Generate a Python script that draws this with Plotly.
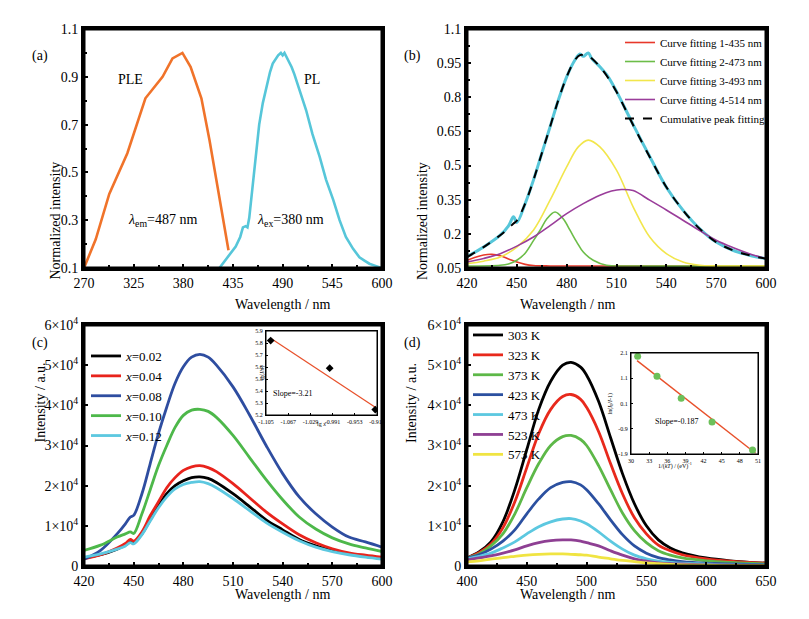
import plotly.graph_objects as go

W, H = 801, 611  # page body keeps an 8 px margin, so 8 + 801 = 809 and 8 + 611 = 619
OFF = 8

# ---- (a) PLE / PL ----
ple_x = [270, 283, 298, 318, 338, 350, 357, 368, 379, 388, 400, 409, 420, 430]
ple_y = [0.10, 0.22, 0.41, 0.58, 0.81, 0.865, 0.90, 0.977, 1.0, 0.942, 0.81, 0.635, 0.397, 0.174]
pl_x = [420, 426, 431, 438, 443, 446, 449, 451, 453, 457, 460, 464, 468, 472, 476, 479, 482, 485, 488,
        490, 492, 494, 497, 500, 503, 508, 516, 523, 531, 538, 546, 553, 560, 568, 575, 581, 586, 592, 597, 600]
pl_y = [0.10, 0.13, 0.15, 0.19, 0.23, 0.27, 0.275, 0.27, 0.31, 0.45, 0.56, 0.70, 0.79, 0.86, 0.92, 0.955, 0.975, 0.99, 1.0,
        0.99, 1.0, 0.985, 0.96, 0.94, 0.91, 0.85, 0.76, 0.66, 0.565, 0.47, 0.385, 0.30, 0.23, 0.18, 0.145, 0.13, 0.118, 0.11, 0.104, 0.10]

# ---- (b) peak fitting ----
b_x = [420, 430, 440, 445, 448, 450, 455, 460, 465, 470, 475, 480, 485, 488, 490, 493, 495, 500, 505, 510,
       520, 530, 540, 550, 560, 570, 580, 590, 600]
b_meas = [0.10, 0.142, 0.194, 0.235, 0.275, 0.25, 0.333, 0.436, 0.553, 0.67, 0.788, 0.89, 0.964, 0.99, 0.98, 0.995, 0.971, 0.934, 0.89, 0.826,
          0.68, 0.54, 0.405, 0.304, 0.223, 0.164, 0.128, 0.106, 0.091]
b_cum = [0.098, 0.142, 0.194, 0.225, 0.245, 0.258, 0.333, 0.436, 0.553, 0.67, 0.788, 0.89, 0.964, 0.985, 0.986, 0.982, 0.971, 0.934, 0.885, 0.824,
         0.678, 0.538, 0.406, 0.304, 0.223, 0.164, 0.128, 0.106, 0.091]
fit1_x = [420, 425, 430, 435, 440, 445, 450, 455, 460, 470, 500, 600]
fit1_y = [0.084, 0.097, 0.107, 0.110, 0.104, 0.090, 0.076, 0.066, 0.061, 0.059, 0.059, 0.059]
fit2_x = [420, 440, 445, 450, 455, 460, 464, 468, 473, 478, 482, 486, 490, 496, 504, 520, 600]
fit2_y = [0.059, 0.062, 0.068, 0.084, 0.115, 0.170, 0.216, 0.265, 0.296, 0.265, 0.216, 0.165, 0.120, 0.084, 0.062, 0.059, 0.059]
fit3_x = [420, 430, 440, 450, 460, 470, 480, 487, 493, 500, 510, 520, 530, 540, 550, 560, 570, 600]
fit3_y = [0.069, 0.080, 0.098, 0.142, 0.216, 0.348, 0.494, 0.582, 0.612, 0.582, 0.480, 0.319, 0.186, 0.113, 0.076, 0.062, 0.059, 0.059]
fit4_x = [420, 430, 440, 450, 460, 470, 480, 490, 500, 507, 513, 520, 530, 540, 550, 560, 570, 580, 590, 600]
fit4_y = [0.076, 0.092, 0.113, 0.146, 0.186, 0.236, 0.289, 0.333, 0.370, 0.388, 0.395, 0.390, 0.348, 0.305, 0.260, 0.215, 0.172, 0.140, 0.113, 0.091]
fit_names = ["Curve fitting 1-435 nm", "Curve fitting 2-473 nm", "Curve fitting 3-493 nm", "Curve fitting 4-514 nm"]
fit_colors = ["#E8382A", "#6CBD48", "#F2E64C", "#9A3D9A"]

# ---- (c) concentration ----
c_x = [420, 430, 440, 445, 448, 450, 455, 460, 465, 470, 475, 480, 485, 490, 495, 500, 510, 520, 530, 540,
       550, 560, 570, 580, 590, 600]
c_names = ["0.02", "0.04", "0.08", "0.10", "0.12"]
c_colors = ["#000000", "#E8231C", "#2E4DA0", "#4DB84A", "#5CC8E0"]
c_002 = [0.20, 0.28, 0.42, 0.52, 0.60, 0.58, 0.80, 1.15, 1.50, 1.80, 2.00, 2.12, 2.20, 2.22, 2.18, 2.08, 1.80, 1.48, 1.15, 0.90,
         0.66, 0.50, 0.38, 0.30, 0.24, 0.19]
c_004 = [0.18, 0.28, 0.45, 0.56, 0.66, 0.62, 0.85, 1.25, 1.60, 1.95, 2.20, 2.38, 2.47, 2.50, 2.45, 2.35, 2.05, 1.70, 1.35, 1.05,
         0.78, 0.58, 0.43, 0.33, 0.27, 0.22]
c_008 = [0.17, 0.39, 0.80, 1.05, 1.22, 1.26, 1.80, 2.55, 3.30, 3.96, 4.55, 4.96, 5.20, 5.27, 5.20, 5.00, 4.46, 3.76, 3.00, 2.30,
         1.72, 1.30, 0.97, 0.72, 0.60, 0.47]
c_010 = [0.39, 0.52, 0.72, 0.80, 0.85, 0.81, 1.30, 1.90, 2.50, 3.00, 3.45, 3.75, 3.88, 3.90, 3.85, 3.70, 3.25, 2.70, 2.15, 1.65,
         1.22, 0.92, 0.70, 0.55, 0.45, 0.36]
c_012 = [0.22, 0.30, 0.42, 0.50, 0.58, 0.55, 0.78, 1.12, 1.45, 1.72, 1.92, 2.03, 2.08, 2.10, 2.05, 1.95, 1.68, 1.38, 1.08, 0.84,
         0.63, 0.47, 0.36, 0.28, 0.22, 0.17]
c_series = [c_002, c_004, c_008, c_010, c_012]

# inset (c)
lgx = [-1.097, -0.996, -0.918]
lgIx = [5.82, 5.59, 5.245]
fit_c_x = [-1.097, -0.918]
fit_c_y = [5.84, 5.265]

# ---- (d) temperature ----
d_names = ["303 K", "323 K", "373 K", "423 K", "473 K", "523 K", "573 K"]
d_colors = ["#000000", "#E8291C", "#5DB848", "#2B50A0", "#5CC8E0", "#8E3F93", "#F0E442"]
d_x = [400, 410, 420, 430, 440, 450, 460, 470, 480, 487, 495, 500, 510, 520, 530, 540, 550, 560, 570, 580, 600, 620, 650]
d_303 = [0.20, 0.35, 0.60, 1.10, 1.90, 2.90, 3.90, 4.60, 5.00, 5.07, 4.95, 4.75, 4.10, 3.20, 2.30, 1.55, 1.00, 0.65, 0.45, 0.33, 0.20, 0.13, 0.07]
d_323 = [0.20, 0.33, 0.55, 0.95, 1.60, 2.45, 3.30, 3.90, 4.22, 4.27, 4.15, 3.95, 3.35, 2.55, 1.80, 1.20, 0.80, 0.52, 0.38, 0.28, 0.18, 0.12, 0.07]
d_373 = [0.20, 0.30, 0.50, 0.80, 1.30, 1.95, 2.55, 3.00, 3.22, 3.25, 3.15, 3.00, 2.50, 1.90, 1.32, 0.88, 0.58, 0.38, 0.27, 0.20, 0.13, 0.09, 0.05]
d_423 = [0.20, 0.28, 0.42, 0.62, 0.90, 1.30, 1.67, 1.95, 2.08, 2.10, 2.02, 1.90, 1.55, 1.15, 0.78, 0.50, 0.32, 0.21, 0.15, 0.11, 0.07, 0.05, 0.03]
d_473 = [0.18, 0.24, 0.32, 0.45, 0.60, 0.80, 0.98, 1.10, 1.17, 1.18, 1.12, 1.05, 0.85, 0.62, 0.42, 0.27, 0.18, 0.12, 0.09, 0.07, 0.05, 0.03, 0.02]
d_523 = [0.15, 0.20, 0.25, 0.32, 0.40, 0.50, 0.58, 0.63, 0.65, 0.65, 0.62, 0.58, 0.50, 0.38, 0.27, 0.18, 0.12, 0.08, 0.06, 0.05, 0.03, 0.02, 0.01]
d_573 = [0.10, 0.13, 0.17, 0.21, 0.24, 0.27, 0.29, 0.30, 0.30, 0.29, 0.28, 0.27, 0.22, 0.18, 0.14, 0.11, 0.08, 0.06, 0.04, 0.03, 0.02, 0.01, 0.01]
d_series = [d_303, d_323, d_373, d_423, d_473, d_523, d_573]

# inset (d)
inv_kT = [31.1, 34.3, 38.3, 43.4, 50.1]
ln_ratio = [1.97, 1.18, 0.31, -0.63, -1.74]
fit_d_x = [31.0, 50.6]
fit_d_y = [1.80, -1.87]

FONT = "Liberation Serif"


def px(x):
    return (x - OFF) / W


def py(y):
    return 1 - (y - OFF) / H


fig = go.Figure()

# (a)
fig.add_trace(go.Scatter(x=ple_x, y=ple_y, mode="lines", line=dict(color="#F0732A", width=2.6),
                         xaxis="x", yaxis="y", showlegend=False))
fig.add_trace(go.Scatter(x=pl_x, y=pl_y, mode="lines", line=dict(color="#56C6D9", width=2.6),
                         xaxis="x", yaxis="y", showlegend=False))

# (b)
fig.add_trace(go.Scatter(x=b_x, y=b_meas, mode="lines", line=dict(color="#56C6D9", width=3, shape="spline"),
                         xaxis="x2", yaxis="y2", showlegend=False))
for nm, col, fx, fy in zip(fit_names, fit_colors, [fit1_x, fit2_x, fit3_x, fit4_x], [fit1_y, fit2_y, fit3_y, fit4_y]):
    fig.add_trace(go.Scatter(x=fx, y=fy, mode="lines", name=nm, line=dict(color=col, width=1.6, shape="spline"),
                             xaxis="x2", yaxis="y2", legend="legend"))
fig.add_trace(go.Scatter(x=b_x, y=b_cum, mode="lines", name="Cumulative peak fitting",
                         line=dict(color="black", width=2, dash="dash", shape="spline"),
                         xaxis="x2", yaxis="y2", legend="legend"))

# (c)
for nm, col, ys in zip(c_names, c_colors, c_series):
    fig.add_trace(go.Scatter(x=c_x, y=[v * 1e4 for v in ys], mode="lines", name="<i>x</i>=" + nm,
                             line=dict(color=col, width=2.8, shape="spline"),
                             xaxis="x3", yaxis="y3", legend="legend2"))
fig.add_trace(go.Scatter(x=fit_c_x, y=fit_c_y, mode="lines", line=dict(color="#E8502A", width=1.2),
                         xaxis="x5", yaxis="y5", showlegend=False))
fig.add_trace(go.Scatter(x=lgx, y=lgIx, mode="markers", marker=dict(color="black", size=6, symbol="diamond"),
                         xaxis="x5", yaxis="y5", showlegend=False))

# (d)
for nm, col, ys in zip(d_names, d_colors, d_series):
    fig.add_trace(go.Scatter(x=d_x, y=[v * 1e4 for v in ys], mode="lines", name=nm,
                             line=dict(color=col, width=2.8, shape="spline"),
                             xaxis="x4", yaxis="y4", legend="legend3"))
fig.add_trace(go.Scatter(x=fit_d_x, y=fit_d_y, mode="lines", line=dict(color="#E8502A", width=1.4),
                         xaxis="x6", yaxis="y6", showlegend=False))
fig.add_trace(go.Scatter(x=inv_kT, y=ln_ratio, mode="markers", marker=dict(color="#6CC05A", size=7),
                         xaxis="x6", yaxis="y6", showlegend=False))


def main_axis(domain, rng, tick0, dtick, minor_dtick=None, anchor=None, tickvals=None, ticktext=None):
    ax = dict(domain=domain, range=rng, showline=True, mirror=True, linewidth=3,
              linecolor="#000000", ticks="inside", ticklen=4, tickwidth=2, tickcolor="#000000",
              showgrid=False, zeroline=False, anchor=anchor, automargin=False, ticklabelstandoff=0,
              layer="above traces", tickfont=dict(family=FONT, size=14, color="black"))
    if tickvals is not None:
        ax.update(tickmode="array", tickvals=tickvals, ticktext=ticktext)
    else:
        ax.update(tickmode="linear", tick0=tick0, dtick=dtick)
        if minor_dtick is not None:
            ax["minor"] = dict(tickmode="linear", tick0=tick0, dtick=minor_dtick, ticks="inside", ticklen=3,
                               tickwidth=2, tickcolor="#000000", showgrid=False)
    return ax


def inset_axis(domain, rng, tickvals, ticktext, anchor):
    return dict(domain=domain, range=rng, tickmode="array", tickvals=tickvals, ticktext=ticktext,
                showline=True, mirror=True, automargin=False,
                linewidth=1, linecolor="#000000", ticks="inside", ticklen=2, tickcolor="#000000",
                showgrid=False, zeroline=False, anchor=anchor, ticklabelstandoff=1,
                tickfont=dict(family=FONT, size=6, color="black"))


dxa = [px(84), px(382)]
dxb = [px(467), px(766)]
dyt = [py(268), py(29)]
dyb = [py(566), py(325)]
dxi_c = [px(266), px(377)]
dyi_c = [py(415), py(331)]
dxi_d = [px(631), px(758)]
dyi_d = [py(454), py(353)]

e4_vals = [k * 1e4 for k in range(7)]
e4 = ["0"] + ["%d×10<sup>4</sup>" % k for k in range(1, 7)]

fig.update_layout(
    template="none",
    width=W, height=H, margin=dict(l=0, r=0, t=0, b=0, autoexpand=False),
    paper_bgcolor="white", plot_bgcolor="white",
    font=dict(family=FONT, color="black"),
    xaxis=main_axis(dxa, [270, 600], 270, 55, 27.5, anchor="y"),
    yaxis=main_axis(dyt, [0.1, 1.1], 0.1, 0.2, 0.1, anchor="x"),
    xaxis2=main_axis(dxb, [420, 600], 420, 30, 15, anchor="y2"),
    yaxis2=main_axis(dyt, [0.05, 1.1], 0.05, 0.15, 0.075, anchor="x2"),
    xaxis3=main_axis(dxa, [420, 600], 420, 30, 15, anchor="y3"),
    yaxis3=main_axis(dyb, [0, 6e4], None, None, anchor="x3", tickvals=e4_vals, ticktext=e4),
    xaxis4=main_axis(dxb, [400, 650], 400, 50, 25, anchor="y4"),
    yaxis4=main_axis(dyb, [0, 6e4], None, None, anchor="x4", tickvals=e4_vals, ticktext=e4),
    xaxis5=inset_axis(dxi_c, [-1.105, -0.915], [-1.105, -1.067, -1.029, -0.991, -0.953, -0.915],
                      ["-1.105", "-1.067", "-1.029", "-0.991", "-0.953", "-0.915"], "y5"),
    yaxis5=inset_axis(dyi_c, [5.2, 5.9], [5.2, 5.3, 5.4, 5.5, 5.6, 5.7, 5.8, 5.9],
                      ["5.2", "5.3", "5.4", "5.5", "5.6", "5.7", "5.8", "5.9"], "x5"),
    xaxis6=inset_axis(dxi_d, [30, 51], [30, 33, 36, 39, 42, 45, 48, 51],
                      ["30", "33", "36", "39", "42", "45", "48", "51"], "y6"),
    yaxis6=inset_axis(dyi_d, [-1.9, 2.1], [-1.9, -0.9, 0.1, 1.1, 2.1],
                      ["-1.9", "-0.9", "0.1", "1.1", "2.1"], "x6"),
    legend=dict(x=px(620), y=py(28), xanchor="left", yanchor="top", bgcolor="rgba(0,0,0,0)",
                font=dict(family=FONT, size=11, color="black"), tracegroupgap=0, borderwidth=0),
    legend2=dict(x=px(86), y=py(341), xanchor="left", yanchor="top", bgcolor="rgba(0,0,0,0)",
                 font=dict(family=FONT, size=13, color="black"), borderwidth=0),
    legend3=dict(x=px(468), y=py(320), xanchor="left", yanchor="top", bgcolor="rgba(0,0,0,0)",
                 font=dict(family=FONT, size=13, color="black"), borderwidth=0),
)

# frames around every panel and inset
frames = []
for k, lw in zip(["", "2", "3", "4", "5", "6"], [3, 3, 3, 3, 1, 1]):
    frames.append(dict(type="rect", xref="x%s domain" % k, yref="y%s domain" % k, x0=0, x1=1, y0=0, y1=1,
                       line=dict(color="black", width=lw), layer="above"))

ann = []


def txt(x, y, s, size=14, angle=0, xref="paper", yref="paper"):
    ann.append(dict(x=x, y=y, xref=xref, yref=yref, text=s, showarrow=False, textangle=angle,
                    font=dict(family=FONT, size=size, color="black")))


# panel letters
txt(px(30), py(46), "(a)", 14)
txt(px(412), py(46), "(b)", 14)
txt(px(30), py(343), "(c)", 14)
txt(px(412), py(343), "(d)", 14)
# axis titles
txt(px(233), py(304), "Wavelength / nm", 14)
txt(px(617), py(304), "Wavelength / nm", 14)
txt(px(233), py(604), "Wavelength / nm", 14)
txt(px(617), py(604), "Wavelength / nm", 14)
txt(px(45), py(160), "Normalized intensity", 14, -90)
txt(px(422), py(160), "Normalized intensity", 14, -90)
txt(px(30), py(445), "Intensity / a.u.", 14, -90)
txt(px(411), py(445), "Intensity / a.u.", 14, -90)
# panel (a) labels
txt(322, 0.89, "PLE", 14, xref="x", yref="y")
txt(523, 0.89, "PL", 14, xref="x", yref="y")
txt(357, 0.30, "<i>λ</i><sub>em</sub>=487 nm", 14, xref="x", yref="y")
txt(499, 0.30, "<i>λ</i><sub>ex</sub>=380 nm", 14, xref="x", yref="y")
# insets
txt(-1.06, 5.38, "Slope=-3.21", 8, xref="x5", yref="y5")
txt(px(321), py(429), "lg <i>x</i>", 6)
txt(px(256), py(373), "lg(<i>I</i>/<i>x</i>)", 6, -90)
txt(37.5, -0.6, "Slope=-0.187", 8, xref="x6", yref="y6")
txt(px(694), py(472), "1/(<i>kT</i>) / (eV)<sup>-1</sup>", 6)
txt(px(616), py(404), "ln(<i>I</i><sub>0</sub>/<i>I</i>-1)", 6, -90)

fig.update_layout(annotations=ann, shapes=frames)

fig.write_html("out.html")
